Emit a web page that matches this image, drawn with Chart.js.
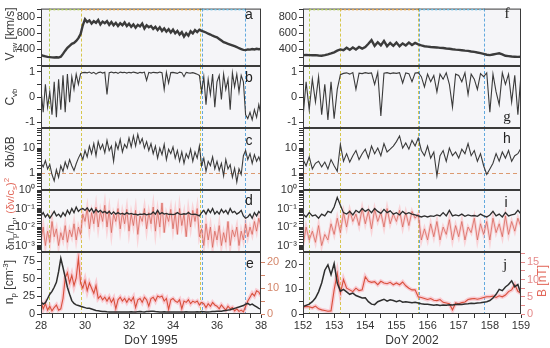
<!DOCTYPE html>
<html>
<head>
<meta charset="utf-8">
<script src="https://cdn.jsdelivr.net/npm/chart.js@4.4.1/dist/chart.umd.min.js"></script>
<style>
  html, body { margin: 0; padding: 0; background: #fff; }
  #wrap { position: relative; width: 550px; height: 348px; overflow: hidden;
          font-family: Arial, "Liberation Sans", Helvetica, sans-serif; }
  #wrap canvas { position: absolute; left: 0; top: 0; z-index: 1; }
  .ylab { position: absolute; z-index: 3; transform: translate(-50%, -50%) rotate(-90deg);
          white-space: nowrap; font-size: 12px; color: #3a3a3a; line-height: 1; }
  .ylab .lo { font-size: 8px; position: relative; top: 3px; }
  .ylab .hi { font-size: 8px; position: relative; top: -5px; }
  .small { font-size: 11px; }
  .red { color: #e2685a; }
  .tag { position: absolute; z-index: 3; transform: translate(-50%, -50%); font-size: 14px; color: #222; line-height: 1; }
  .serif { font-family: "Liberation Serif", "DejaVu Serif", serif; font-size: 15px; }
</style>
</head>
<body>
<div id="wrap">
  <div class="ylab" style="left:10px; top:34px">V<span class="lo">sw</span> [km/s]</div>
  <div class="ylab" style="left:10px; top:97px">C<span class="lo">vb</span></div>
  <div class="ylab" style="left:10px; top:152px">δb/δB</div>
  <div class="ylab small" style="left:10px; top:214px">δn<span class="lo">p</span>/n<span class="lo">p</span>, <span class="red">(δv/c<span class="lo">s</span>)<span class="hi">2</span></span></div>
  <div class="ylab" style="left:9px; top:282px">n<span class="lo">p</span> [cm<span class="hi">-3</span>]</div>
  <div class="ylab red" style="left:542px; top:281px">B [nT]</div>

  <div class="tag" style="left:249px; top:14px">a</div>
  <div class="tag" style="left:249px; top:77px">b</div>
  <div class="tag" style="left:249px; top:140px">c</div>
  <div class="tag" style="left:249px; top:200px">d</div>
  <div class="tag" style="left:250px; top:263px">e</div>
  <div class="tag serif" style="left:507px; top:13px">f</div>
  <div class="tag serif" style="left:507px; top:116px">g</div>
  <div class="tag" style="left:507px; top:138px">h</div>
  <div class="tag" style="left:506px; top:202px">i</div>
  <div class="tag serif" style="left:505px; top:264px">j</div>
</div>
<script>
// ---- sampling (0.1 day) ----
const DAYS_1995 = Array.from({ length: 101 }, (_, i) => +(28 + i * 0.1).toFixed(1));
const DAYS_2002 = Array.from({ length: 71 }, (_, i) => +(152 + i * 0.1).toFixed(1));

// labelled ticks of the speed panels
const V_TICKS = [400, 600, 800];

// ---- DoY 1995 (left column) ----
const V_1995 = [
  330, 322, 315, 308, 305, 302, 300, 304, 300, 310,
  345, 385, 420, 445, 470, 480, 505, 540, 590, 700,
  775, 740, 760, 720, 750, 730, 765, 710, 745, 725,
  750, 705, 740, 700, 730, 690, 725, 700, 735, 690,
  720, 680, 710, 670, 705, 685, 720, 660, 700, 675,
  690, 655, 680, 640, 675, 630, 660, 620, 650, 610,
  645, 600, 630, 585, 615, 560, 600, 570, 625, 600,
  640, 615, 645, 630, 620, 610, 595, 585, 570, 560,
  550, 530, 510, 490, 480, 470, 460, 450, 440, 430,
  415, 405, 395, 392, 400, 398, 405, 400, 408, 402,
  405];
const C_1995 = [
  0.3, -0.6, 0.5, -0.4, 0.2, -0.7, 0.6, -0.8, 0.7, -0.5,
  0.85, -0.6, 0.9, -0.2, 0.8, 0.3, 0.9, 0.5, 0.92, 0.96,
  0.97, 0.95, 0.98, 0.93, 0.97, 0.9, 0.96, 0.98, 0.94, 0.97,
  0.1, 0.96, 0.98, 0.95, 0.97, 0.93, 0.98, 0.96, 0.97, 0.94,
  0.97, 0.95, 0.98, 0.96, 0.93, 0.97, 0.95, 0.98, 0.65, 0.97,
  0.94, 0.97, 0.96, 0.95, 0.98, 0.96, 0.3, 0.97, 0.55, 0.96,
  0.97, 0.95, 0.93, 0.98, 0.96, 0.8, 0.97, 0.95, 0.94, 0.96,
  0.93, 0.9, 0.85, 0.2, 0.8, -0.3, 0.7, 0.1, 0.9, -0.4,
  0.6, 0.85, -0.1, 0.9, 0.3, 0.7, -0.5, 0.95, 0.4, 0.9,
  0.2, 0.85, 0.6, -0.7, -0.85, -0.6, -0.9, -0.5, -0.8, -0.3,
  -0.7];
const DBB_1995 = [
  2.5, 1.8, 3.2, 1.5, 2.2, 0.9, 0.5, 1.4, 0.7, 2.0,
  1.2, 2.8, 1.6, 3.5, 2.0, 1.3, 2.4, 4.0, 6.0, 3.5,
  8.0, 4.5, 12, 6.0, 15, 5.0, 18, 9.0, 14, 6.5,
  20, 8.0, 12, 3.0, 16, 9.0, 22, 7.0, 14, 10,
  25, 11, 30, 12, 35, 15, 24, 10, 18, 8.0,
  15, 6.0, 12, 4.0, 10, 5.5, 14, 3.5, 9.0, 6.0,
  11, 4.0, 8.0, 3.0, 7.0, 2.5, 6.0, 4.0, 9.0, 3.0,
  7.0, 4.0, 12, 2.0, 4.0, 1.2, 3.0, 2.0, 4.5, 1.5,
  3.0, 1.3, 2.5, 0.8, 3.5, 1.5, 2.2, 0.7, 1.6, 0.45,
  1.5, 0.9, 5.0, 8.0, 3.5, 6.0, 2.5, 5.5, 3.0, 4.5,
  2.5];
const DN_1995 = [
  0.04, 0.06, 0.035, 0.05, 0.03, 0.045, 0.07, 0.04, 0.05, 0.035,
  0.06, 0.04, 0.08, 0.05, 0.1, 0.06, 0.12, 0.07, 0.09, 0.1,
  0.08, 0.11, 0.07, 0.1, 0.06, 0.09, 0.065, 0.08, 0.06, 0.07,
  0.055, 0.07, 0.05, 0.065, 0.05, 0.06, 0.05, 0.055, 0.048, 0.06,
  0.05, 0.055, 0.048, 0.05, 0.045, 0.05, 0.048, 0.052, 0.046, 0.05,
  0.05, 0.065, 0.05, 0.08, 0.05, 0.06, 0.05, 0.055, 0.048, 0.05,
  0.047, 0.05, 0.06, 0.05, 0.048, 0.052, 0.05, 0.06, 0.05, 0.048,
  0.05, 0.045, 0.04, 0.06, 0.08, 0.05, 0.09, 0.06, 0.1, 0.05,
  0.07, 0.05, 0.09, 0.06, 0.08, 0.05, 0.1, 0.06, 0.07, 0.05,
  0.06, 0.08, 0.04, 0.03, 0.035, 0.05, 0.03, 0.06, 0.04, 0.07,
  0.05];
const DV_1995 = [
  0.002, 0.01, 0.001, 0.006, 0.0015, 0.02, 0.003, 0.008, 0.001, 0.005,
  0.002, 0.012, 0.0015, 0.007, 0.003, 0.015, 0.002, 0.01, 0.004, 0.05,
  0.02, 0.1, 0.008, 0.06, 0.015, 0.12, 0.01, 0.07, 0.02, 0.15,
  0.01, 0.08, 0.005, 0.05, 0.02, 0.1, 0.008, 0.06, 0.015, 0.09,
  0.006, 0.05, 0.012, 0.08, 0.004, 0.04, 0.02, 0.1, 0.008, 0.06,
  0.015, 0.12, 0.006, 0.07, 0.01, 0.2, 0.005, 0.05, 0.02, 0.09,
  0.008, 0.06, 0.004, 0.1, 0.012, 0.05, 0.003, 0.07, 0.01, 0.08,
  0.02, 0.1, 0.003, 0.008, 0.001, 0.015, 0.002, 0.01, 0.0008, 0.006,
  0.002, 0.012, 0.001, 0.005, 0.0015, 0.02, 0.001, 0.007, 0.003, 0.01,
  0.001, 0.006, 0.002, 0.015, 0.003, 0.01, 0.004, 0.02, 0.006, 0.03,
  0.01];
const NP_1995 = [
  17, 14, 16, 22, 28, 32, 38, 45, 60, 79,
  66, 52, 38, 28, 19, 15, 13, 12, 11, 10,
  9, 8, 8, 7, 6, 5, 4.5, 4, 3.5, 3.5,
  3.2, 3, 3, 3, 2.8, 3, 3, 2.9, 3, 3,
  3, 3.2, 3, 3, 3.3, 3.5, 3.2, 3, 3.4, 3.6,
  3.8, 4, 3.5, 3.3, 3, 3, 3.2, 3, 3, 3,
  3, 3, 2.8, 3, 3, 3, 3.2, 3, 3, 3,
  3, 3.2, 3, 3.4, 3.2, 3, 3, 3.2, 3.5, 3.5,
  3.8, 4, 4, 4.5, 5, 5.5, 6, 7, 8, 9,
  10, 11, 12, 14, 15, 13, 14, 12, 10, 8,
  7];
const B_1995 = [
  5, 2, 4, 1.5, 3, 1.2, 2.5, 3.5, 1.5, 2,
  6, 14, 16, 12, 15, 11, 14, 21.5, 12, 10,
  13, 9, 12, 10, 8, 11, 6, 7, 5.5, 6.5,
  5, 6.5, 4.5, 6, 2, 5.5, 6.5, 5, 6, 4.5,
  6, 5, 6.5, 2.5, 5.5, 6, 4.5, 6.5, 5.5, 3,
  6, 6.5, 5, 7, 6.5, 7, 5, 6, 1.8, 5.5,
  6, 5, 4.5, 5.5, 2, 5, 4.5, 5.5, 4, 5,
  4.5, 5, 3.5, 4.5, 4, 2.5, 4, 3, 4.5, 3.5,
  3, 2, 3.5, 2.5, 1.5, 3, 2, 2.5, 1.2, 2,
  1, 1.5, 0.8, 3, 5, 6.5, 8, 7, 9, 8.5,
  7];

// ---- DoY 2002 (right column) ----
const V_2002 = [
  330, 332, 330, 328, 330, 325, 322, 330, 340, 352,
  365, 385, 400, 390, 420, 395, 425, 400, 430, 410,
  430, 470, 515, 445, 490, 450, 505, 440, 480, 445,
  485, 440, 475, 450, 485, 455, 480, 462, 450, 440,
  435, 430, 428, 425, 420, 418, 412, 408, 402, 398,
  395, 390, 385, 382, 375, 370, 362, 355, 345, 335,
  330, 338, 345, 352, 340, 322, 318, 312, 310, 308,
  310];
const C_2002 = [
  -0.8, 0.6, -0.5, 0.7, -0.2, 0.8, -0.7, 0.5, -0.9, 0.6,
  -0.85, 0.3, 0.88, 0.93, 0.95, 0.9, 0.96, 0.3, 0.94, 0.92,
  0.96, 0.93, 0.95, 0.5, 0.97, -0.75, 0.94, 0.96, 0.92, 0.95,
  0.93, 0.96, 0.55, 0.95, 0.92, 0.6, 0.94, 0.96, 0.8, 0.4,
  0.9, 0.6, 0.85, 0.2, 0.9, 0.7, 0.95, 0.5, -0.4, 0.9,
  0.85, 0.6, 0.95, 0.1, 0.9, 0.7, 0.3, 0.92, 0.8, 0.95,
  -0.6, 0.9, 0.2, -0.3, 0.95, 0.5, 0.9, -0.2, 0.85, -0.7,
  0.9];
const DBB_2002 = [
  3.5, 2.0, 4.5, 1.5, 2.5, 3.0, 1.8, 2.8, 1.5, 3.5,
  2.0, 1.2, 14, 3.0, 6.0, 2.8, 5.0, 8.0, 3.5, 6.0,
  9.0, 4.0, 12, 6.0, 10, 5.0, 15, 7.0, 9.0, 12,
  18, 30, 10, 16, 9.0, 20, 12, 25, 8.0, 5.0,
  12, 4.0, 7.0, 0.8, 5.0, 8.0, 3.0, 10, 5.0, 7.0,
  4.0, 9.0, 6.0, 15, 5.0, 8.0, 3.0, 6.0, 2.0, 0.9,
  1.5, 2.5, 6.0, 3.0, 7.0, 4.0, 8.0, 3.0, 5.0, 6.0,
  10];
const DN_2002 = [
  0.05, 0.035, 0.06, 0.04, 0.045, 0.03, 0.05, 0.04, 0.07, 0.06,
  0.12, 0.4, 0.15, 0.06, 0.05, 0.07, 0.045, 0.08, 0.06, 0.1,
  0.07, 0.09, 0.06, 0.1, 0.07, 0.055, 0.09, 0.06, 0.075, 0.05,
  0.06, 0.045, 0.07, 0.05, 0.06, 0.05, 0.045, 0.04, 0.035, 0.04,
  0.035, 0.04, 0.038, 0.045, 0.04, 0.06, 0.04, 0.08, 0.04, 0.045,
  0.04, 0.05, 0.038, 0.045, 0.04, 0.042, 0.038, 0.05, 0.04, 0.035,
  0.045, 0.07, 0.04, 0.05, 0.035, 0.06, 0.04, 0.045, 0.05, 0.08,
  0.05];
const DV_2002 = [
  0.001, 0.01, 0.002, 0.006, 0.0015, 0.012, 0.001, 0.004, 0.002, 0.015,
  0.004, 0.03, 0.005, 0.06, 0.01, 0.08, 0.02, 0.05, 0.012, 0.1,
  0.015, 0.07, 0.008, 0.09, 0.02, 0.06, 0.01, 0.1, 0.015, 0.05,
  0.02, 0.08, 0.01, 0.06, 0.012, 0.07, 0.03, 0.05, 0.002, 0.008,
  0.002, 0.015, 0.003, 0.02, 0.002, 0.01, 0.004, 0.025, 0.002, 0.012,
  0.003, 0.02, 0.002, 0.01, 0.005, 0.03, 0.002, 0.015, 0.004, 0.02,
  0.002, 0.03, 0.005, 0.015, 0.003, 0.04, 0.004, 0.02, 0.006, 0.03,
  0.01];
const NP_2002 = [
  3, 3.5, 4, 5, 6.5, 9, 12.6, 17.8, 20, 16,
  20.5, 12.6, 9.3, 10, 9, 8, 8.5, 7.5, 7, 6.5,
  6.6, 5, 4, 3.8, 5, 5.5, 6, 5.2, 5.8, 5.5,
  5, 5.5, 4.8, 5, 4.8, 4.6, 4.8, 4.5, 4.2, 4,
  4, 3.8, 3.6, 3.8, 3.5, 3.7, 3.6, 3.8, 3.7, 3.9,
  4, 3.9, 4.1, 4.2, 4.4, 4.3, 4.5, 4.6, 4.8, 5,
  5.5, 6.5, 8, 10, 9.5, 11, 12, 13.5, 11, 12,
  8];
const B_2002 = [
  2, 2.2, 2.1, 1.8, 2.3, 1.5, 1.2, 1, 0.8, 0.9,
  7, 11.8, 6, 10, 7.5, 7, 6.5, 7.5, 6.8, 7,
  10.8, 9.5, 9.2, 9.4, 8.5, 9.5, 9, 8.8, 9.2, 8.5,
  9, 8.5, 9.3, 8.2, 7.5, 7, 7, 5, 4.8, 4.5,
  4.2, 4.5, 4, 3.9, 4.2, 3.4, 3.2, 3, 1.2, 3.2,
  3, 3.3, 3.5, 4.2, 4.4, 4.5, 4.3, 4.5, 4.8, 5,
  5, 5.2, 4.8, 5.3, 5, 5.5, 6.5, 7, 8.5, 6.6,
  6];

// interval boundaries (DoY)
const EDGES_1995 = [28.38, 29.82, 35.23, 35.34, 37.28];
const EDGES_2002 = [152.2, 153.19, 155.68, 155.73, 157.82];
const EDGE_COLORS = ['#bccf58', '#d6c64c', '#d6c64c', '#62a9de', '#62a9de'];

// ---- layout ----
const W = 550, H = 348;
const COLS = [{ left: 41, right: 261 }, { left: 303, right: 521 }];
const ROWS = [[4, 66], [66, 128], [128, 190], [190, 252], [252, 314]];
const INK = '#333';
const DARK = '#3b3b3b';

Chart.defaults.font.family = 'Arial, "Liberation Sans", Helvetica, sans-serif';
Chart.defaults.font.size = 11;
Chart.defaults.color = INK;

const SUP = { '-': '⁻', '0': '⁰', '1': '¹', '2': '²', '3': '³', '4': '⁴' };
const isMult = (v, s) => Math.abs(v / s - Math.round(v / s)) < 1e-6;
const every = (s) => (v) => (isMult(v, s) ? String(Math.round(v)) : '');
const listed = (list) => (v) => (list.some((t) => Math.abs(t - v) < 1e-6) ? String(Math.round(v)) : '');
const decade = (v) => {
  const e = Math.log10(v);
  return Math.abs(e - Math.round(e)) < 1e-6 ? Math.round(e) : null;
};
const decadePlain = (v) => (decade(v) === null ? '' : String(Math.round(v)));
const decadePow = (v) => {
  const e = decade(v);
  return e === null ? '' : '10' + String(e).split('').map((ch) => SUP[ch]).join('');
};

const decor = {
  id: 'decor',
  beforeDraw(chart) {
    const { ctx, chartArea: a } = chart;
    ctx.save();
    ctx.fillStyle = '#f5f5f8';
    ctx.fillRect(a.left, a.top, a.right - a.left, a.bottom - a.top);
    ctx.restore();
  },
  beforeDatasetsDraw(chart, args, o) {
    const { ctx, chartArea: a, scales } = chart;
    ctx.save();
    ctx.lineWidth = 1;
    ctx.setLineDash([3, 2]);
    (o.edges || []).forEach((d, i) => {
      const px = Math.round(scales.x.getPixelForValue(d)) + 0.5;
      ctx.strokeStyle = EDGE_COLORS[i];
      ctx.beginPath(); ctx.moveTo(px, a.top); ctx.lineTo(px, a.bottom); ctx.stroke();
    });
    if (o.refLine != null) {
      const py = Math.round(scales.y.getPixelForValue(o.refLine)) + 0.5;
      ctx.strokeStyle = '#dc9a70';
      ctx.setLineDash([4, 3]);
      ctx.beginPath(); ctx.moveTo(a.left, py); ctx.lineTo(a.right, py); ctx.stroke();
    }
    ctx.restore();
  },
  afterDraw(chart, args, o) {
    const { ctx, chartArea: a, scales } = chart;
    ctx.save();
    ctx.strokeStyle = DARK;
    ctx.lineWidth = 1;
    ctx.strokeRect(a.left + 0.5, a.top + 0.5, a.right - a.left - 1, a.bottom - a.top - 1);
    if (o.topMarks && o.edges) {
      const e = o.edges;
      const segs = [[e[0], e[1], '#b5d05a'], [e[1], e[2], '#e8a848'], [e[3], e[4], '#6cc3ea']];
      ctx.lineWidth = 1.5;
      ctx.setLineDash([2, 2]);
      segs.forEach(([d0, d1, col]) => {
        ctx.strokeStyle = col;
        ctx.beginPath();
        ctx.moveTo(scales.x.getPixelForValue(d0), a.top + 1);
        ctx.lineTo(scales.x.getPixelForValue(d1), a.top + 1);
        ctx.stroke();
      });
    }
    ctx.restore();
  },
};

function line(days, vals, color, width, axis) {
  return {
    data: days.map((d, i) => ({ x: d, y: vals[i] })),
    borderColor: color, borderWidth: width, pointRadius: 0, tension: 0,
    fill: false, yAxisID: axis || 'y',
  };
}

function yAxis(spec, position, width) {
  const ax = {
    type: spec.type || 'linear',
    position,
    min: spec.min, max: spec.max,
    afterFit: (s) => { s.width = width; },
    border: { display: false },
    grid: { drawOnChartArea: false, drawTicks: true, tickLength: 4, color: spec.tickColor || INK },
    ticks: {
      autoSkip: false, includeBounds: false, padding: 2,
      color: spec.color || INK, font: { size: 11 },
      callback: spec.label,
    },
  };
  if (spec.step) ax.ticks.stepSize = spec.step;
  return ax;
}

function makePanel(col, row, p) {
  const c = document.createElement('canvas');
  c.width = W; c.height = H;
  document.getElementById('wrap').appendChild(c);
  const [top, bottom] = ROWS[row];
  const { left, right } = COLS[col];
  const showX = row === 4;
  const x = {
    type: 'linear', min: p.x.min, max: p.x.max, display: showX,
    border: { display: false },
    grid: { drawOnChartArea: false, tickLength: 4, color: INK },
    ticks: { stepSize: 0.5, autoSkip: false, maxRotation: 0, padding: 1, color: INK,
             font: { size: 11 }, callback: every(p.x.labelStep) },
    title: { display: true, text: p.x.title, color: INK, font: { size: 12 }, padding: { top: 0, bottom: 0 } },
  };
  if (showX) x.afterFit = (s) => { s.height = 34; };
  const scales = { x, y: yAxis(p.y, 'left', 30) };
  if (p.y2) scales.y2 = yAxis(p.y2, 'right', 24);
  return new Chart(c, {
    type: 'line',
    data: { datasets: p.datasets },
    plugins: [decor],
    options: {
      responsive: false, animation: false, events: [],
      layout: { padding: {
        left: left - 30, right: W - right - (p.y2 ? 24 : 0),
        top, bottom: H - bottom - (showX ? 34 : 0),
      } },
      plugins: { legend: { display: false }, tooltip: { enabled: false }, decor: p.decor || {} },
      scales,
    },
  });
}

const COLUMNS = [
  { days: DAYS_1995, x: { min: 28, max: 38, labelStep: 2, title: 'DoY 1995' }, edges: EDGES_1995,
    V: V_1995, C: C_1995, DBB: DBB_1995, DN: DN_1995, DV: DV_1995, NP: NP_1995, B: B_1995,
    np: { min: 0, max: 88, step: 12.5, label: every(25) },
    b: { min: 0, max: 24, step: 5, label: every(10), color: '#d4866a', tickColor: '#d4866a' } },
  { days: DAYS_2002, x: { min: 152, max: 159, labelStep: 1, title: 'DoY 2002' }, edges: EDGES_2002,
    V: V_2002, C: C_2002, DBB: DBB_2002, DN: DN_2002, DV: DV_2002, NP: NP_2002, B: B_2002,
    np: { min: 0, max: 25.2, step: 5, label: every(10) },
    b: { min: 0, max: 18, step: 2.5, label: every(5), color: '#e58a8a', tickColor: '#e58a8a' } },
];

COLUMNS.forEach((k, col) => {
  const t = k.days;
  makePanel(col, 0, {
    x: k.x, decor: { edges: k.edges, topMarks: true },
    y: { min: 195, max: 906, step: 100, label: listed(V_TICKS) },
    datasets: [line(t, k.V, DARK, 2.4)],
  });
  makePanel(col, 1, {
    x: k.x, decor: { edges: k.edges },
    y: { min: -1.22, max: 1.22, step: 0.5, label: every(1) },
    datasets: [line(t, k.C, DARK, 1.1)],
  });
  makePanel(col, 2, {
    x: k.x, decor: { edges: k.edges, refLine: 1 },
    y: { type: 'logarithmic', min: 0.22, max: 62, label: decadePlain },
    datasets: [line(t, k.DBB, DARK, 1.1)],
  });
  makePanel(col, 3, {
    x: k.x, decor: { edges: k.edges },
    y: { type: 'logarithmic', min: 4.5e-4, max: 1, label: decadePow },
    datasets: [
      line(t, k.DN, '#2e2e2e', 1.3),
      line(t, k.DV, 'rgba(214,100,88,0.85)', 0.9),
      line(t, k.DV, 'rgba(255,160,165,0.4)', 3),
    ],
  });
  makePanel(col, 4, {
    x: k.x, decor: { edges: k.edges },
    y: k.np, y2: k.b,
    datasets: [
      line(t, k.NP, '#2e2e2e', 1.5),
      line(t, k.B, '#d8503c', 1.1, 'y2'),
      line(t, k.B, 'rgba(255,140,155,0.4)', 4, 'y2'),
    ],
  });
});
</script>
</body>
</html>
